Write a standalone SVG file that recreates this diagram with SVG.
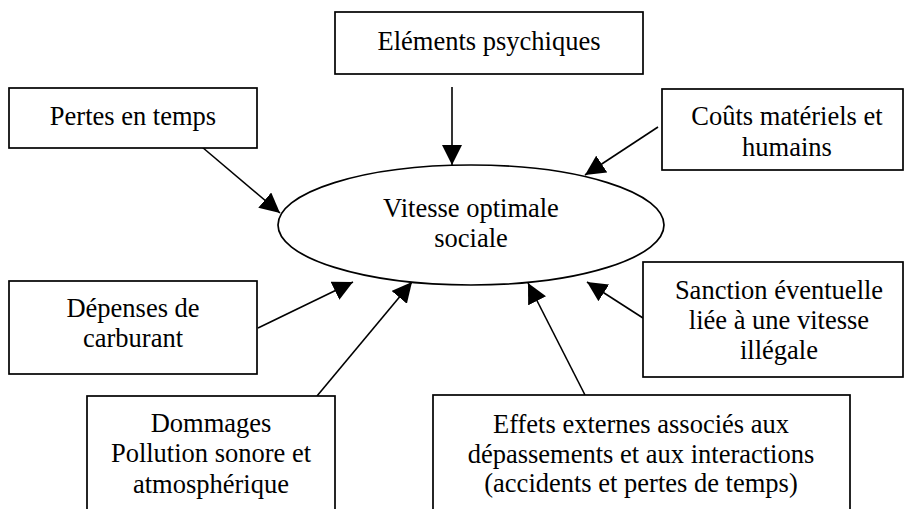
<svg xmlns="http://www.w3.org/2000/svg" width="904" height="509" viewBox="0 0 904 509">
  <style>
    .box { fill: #ffffff; stroke: #000000; stroke-width: 1.7; }
    .ell { fill: #ffffff; stroke: #000000; stroke-width: 1.7; }
    .lbl { font-family: 'Liberation Serif', 'DejaVu Serif', serif; font-size: 26.5px; fill: #000000; text-anchor: middle; }
    .conn { stroke: #000000; stroke-width: 1.6; fill: none; marker-end: url(#arrow); }
  </style>
  <defs>
    <marker id="arrow" markerUnits="userSpaceOnUse" markerWidth="20" markerHeight="20" refX="20" refY="10" orient="auto">
      <path d="M0,0 L20,10 L0,20 z" fill="#000000"/>
    </marker>
  </defs>
  <rect width="904" height="509" fill="#ffffff"/>

  <g id="connectors">
    <line class="conn" x1="452" y1="87" x2="452" y2="165"/>
    <line class="conn" x1="202" y1="147" x2="280" y2="213"/>
    <line class="conn" x1="658" y1="127" x2="585" y2="175"/>
    <line class="conn" x1="258" y1="328" x2="353" y2="282"/>
    <line class="conn" x1="317" y1="396" x2="412" y2="282"/>
    <line class="conn" x1="585" y1="395" x2="528" y2="283"/>
    <line class="conn" x1="643" y1="318" x2="587" y2="282"/>
  </g>

  <g id="center" font-family="Liberation Serif, serif">
    <ellipse class="ell" cx="471" cy="225" rx="193" ry="60"/>
    <text class="lbl" x="471" y="217">Vitesse optimale</text>
    <text class="lbl" x="471" y="247">sociale</text>
  </g>

  <g id="elements-psychiques">
    <rect class="box" x="335" y="12" width="308" height="62"/>
    <text class="lbl" x="489" y="50">Eléments psychiques</text>
  </g>

  <g id="pertes-temps">
    <rect class="box" x="9" y="88" width="248" height="60"/>
    <text class="lbl" x="133" y="125">Pertes en temps</text>
  </g>

  <g id="couts">
    <rect class="box" x="662" y="89" width="241" height="81"/>
    <text class="lbl" x="787" y="125">Coûts matériels et</text>
    <text class="lbl" x="787" y="156">humains</text>
  </g>

  <g id="depenses">
    <rect class="box" x="9" y="281" width="248" height="93"/>
    <text class="lbl" x="133" y="317">Dépenses de</text>
    <text class="lbl" x="133" y="347">carburant</text>
  </g>

  <g id="sanction">
    <rect class="box" x="643" y="262" width="260" height="115"/>
    <text class="lbl" x="779" y="299">Sanction éventuelle</text>
    <text class="lbl" x="779" y="329">liée à une vitesse</text>
    <text class="lbl" x="779" y="359">illégale</text>
  </g>

  <g id="dommages">
    <rect class="box" x="87" y="396" width="248" height="130"/>
    <text class="lbl" x="211" y="432">Dommages</text>
    <text class="lbl" x="211" y="462">Pollution sonore et</text>
    <text class="lbl" x="211" y="493">atmosphérique</text>
  </g>

  <g id="effets-externes">
    <rect class="box" x="433" y="395" width="417" height="130"/>
    <text class="lbl" x="641" y="433">Effets externes associés aux</text>
    <text class="lbl" x="641" y="463">dépassements et aux interactions</text>
    <text class="lbl" x="641" y="492">(accidents et pertes de temps)</text>
  </g>
</svg>
